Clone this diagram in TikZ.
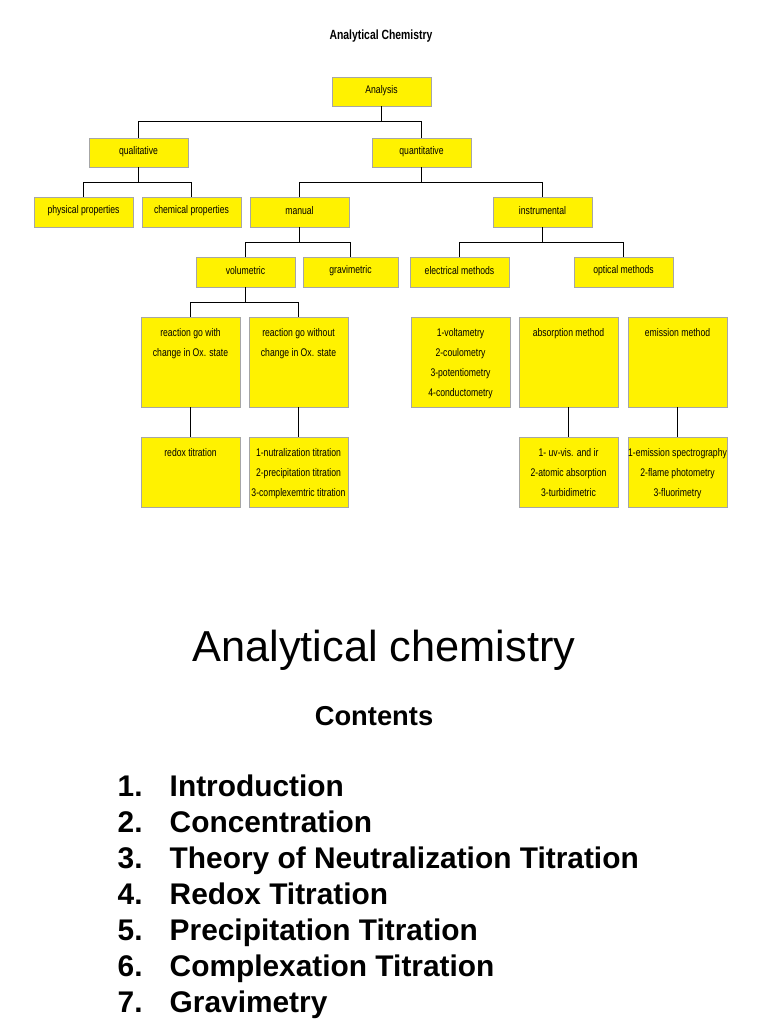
\documentclass[tikz,border=0pt]{standalone}
\usepackage{fontspec}
\setmainfont{Liberation Sans}
\newfontfamily\narrow[FakeStretch=0.78]{Liberation Sans}
\usetikzlibrary{fit}
\begin{document}
\begin{tikzpicture}[x=0.75pt,y=-0.75pt,
  box/.style={draw=black!35,fill=yellow,inner sep=0pt},
  btxt/.style={font=\narrow\fontsize{8.3}{15}\selectfont,align=center},
  conn/.style={draw=black,line width=0.6pt},
  listitem/.style={font=\bfseries\fontsize{22.4}{26}\selectfont,anchor=base west}]
\useasboundingbox (0,0) rectangle (768,1024);
\newcommand\bx[6]{\node[box,fit={(#2,#3)(#4,#5)}] (#1) {};
  \node[btxt,anchor=north] (#1t) at ([yshift=-0.75*7pt]#1.north) {#6};}
\newcommand\sbx[6]{\node[box,fit={(#2,#3)(#4,#5)}] (#1) {};
  \node[btxt] (#1t) at ([yshift=0.75*1pt]#1.center) {#6};}
\node[font=\narrow\bfseries\fontsize{10}{12}\selectfont] (title) at (381,36) {Analytical Chemistry};
\sbx{analysis}{332}{77}{431}{106}{Analysis}
\sbx{qual}{89}{138}{188}{167}{qualitative}
\sbx{quant}{372}{138}{471}{167}{quantitative}
\sbx{phys}{34}{197}{133}{227}{physical properties}
\sbx{chem}{142}{197}{241}{227}{chemical properties}
\sbx{manual}{250}{197}{349}{227}{manual}
\sbx{instr}{493}{197}{592}{227}{instrumental}
\sbx{vol}{196}{257}{295}{287}{volumetric}
\sbx{grav}{303}{257}{398}{287}{gravimetric}
\sbx{elec}{410}{257}{509}{287}{electrical methods}
\sbx{opt}{574}{257}{673}{287}{optical methods}
\bx{rw}{141}{317}{240}{407}{reaction go with\\change in Ox. state}
\bx{rwo}{249}{317}{348}{407}{reaction go without\\change in Ox. state}
\bx{volt}{411}{317}{510}{407}{1-voltametry\\2-coulometry\\3-potentiometry\\4-conductometry}
\bx{abs}{519}{317}{618}{407}{absorption method}
\bx{emi}{628}{317}{727}{407}{emission method}
\bx{redox}{141}{437}{240}{507}{redox titration}
\bx{neut}{249}{437}{348}{507}{1-nutralization titration\\2-precipitation titration\\3-complexemtric titration}
\bx{uv}{519}{437}{618}{507}{1- uv-vis. and ir\\2-atomic absorption\\3-turbidimetric}
\bx{espec}{628}{437}{727}{507}{1-emission spectrography\\2-flame photometry\\3-fluorimetry}
\foreach \p/\a/\b in {analysis/qual/quant,qual/phys/chem,quant/manual/instr,manual/vol/grav,instr/elec/opt,vol/rw/rwo}{
  \draw[conn] (\p.south) -- ++(0,15) -| (\a.north);
  \draw[conn] (\p.south) -- ++(0,15) -| (\b.north);}
\foreach \a/\b in {rw/redox,rwo/neut,abs/uv,emi/espec}{\draw[conn] (\a.south) -- (\b.north);}
\node[font=\fontsize{32.5}{38}\selectfont] (h1) at (384,650) {Analytical chemistry};
\node[font=\bfseries\fontsize{20.5}{24}\selectfont] (h2) at (374,716) {Contents};
\foreach \n/\t [count=\i from 0] in {1/Introduction,2/Concentration,3/Theory of Neutralization Titration,4/Redox Titration,5/Precipitation Titration,6/Complexation Titration,7/Gravimetry}{
  \node[listitem] (n\n) at (113,{796+36*\i}) {\n.};
  \node[listitem] (t\n) at (165,{796+36*\i}) {\t};}
\end{tikzpicture}
\end{document}
